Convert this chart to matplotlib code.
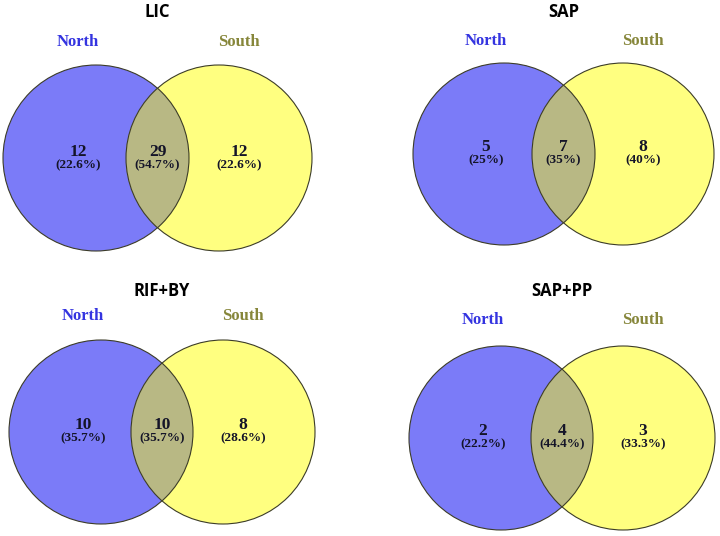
import matplotlib
matplotlib.use("Agg")
import matplotlib.pyplot as plt
from matplotlib.patches import Circle

# data for each venn panel
titles = ["LIC", "SAP", "RIF+BY", "SAP+PP"]
north_only = [12, 5, 10, 2]
shared = [29, 7, 10, 4]
south_only = [12, 8, 8, 3]
north_pct = ["22.6%", "25%", "35.7%", "22.2%"]
shared_pct = ["54.7%", "35%", "35.7%", "44.4%"]
south_pct = ["22.6%", "40%", "28.6%", "33.3%"]
set_names = ["North", "South"]

BLUE = "#7b7bf8"
YELLOW = "#ffff80"
OLIVE = "#b8b884"
EDGE = "#3c3c28"

# panel placement in pixels: origin, circle centres, radius, title / label rows
layout = [
    dict(ox=0, oy=0, nx=96, sx=219, cy=158, r=93, ty=12, ly=42, vy=152),
    dict(ox=360, oy=0, nx=144, sx=263, cy=154, r=91, ty=12, ly=41, vy=147),
    dict(ox=0, oy=268, nx=101, sx=223, cy=164, r=92, ty=23, ly=48, vy=157),
    dict(ox=360, oy=268, nx=141, sx=263, cy=170, r=92, ty=23, ly=52, vy=163),
]

fig = plt.figure(figsize=(7.2, 5.36), dpi=100)
ax = fig.add_axes([0, 0, 1, 1])
ax.set_xlim(0, 720)
ax.set_ylim(536, 0)
ax.set_aspect("equal")
ax.axis("off")

serif = "Liberation Serif"

for i, t in enumerate(titles):
    L = layout[i]
    ox, oy = L["ox"], L["oy"]
    nx, sx, cy, r = ox + L["nx"], ox + L["sx"], oy + L["cy"], L["r"]

    north = Circle((nx, cy), r, facecolor=BLUE, edgecolor="none")
    south = Circle((sx, cy), r, facecolor=YELLOW, edgecolor="none")
    ax.add_patch(north)
    ax.add_patch(south)
    # overlap region: south circle clipped by north circle
    both = Circle((sx, cy), r, facecolor=OLIVE, edgecolor="none")
    ax.add_patch(both)
    clip = Circle((nx, cy), r, transform=ax.transData)
    both.set_clip_path(clip)
    # outlines on top
    ax.add_patch(Circle((nx, cy), r, fill=False, edgecolor=EDGE, lw=0.8))
    ax.add_patch(Circle((sx, cy), r, fill=False, edgecolor=EDGE, lw=0.8))

    mid = (nx + sx) / 2
    ax.text(mid, oy + L["ty"], t, ha="center", va="center",
            fontsize=12, fontweight="bold", family="Open Sans")
    ax.text(nx - 18, oy + L["ly"], set_names[0], ha="center", va="center",
            fontsize=12, fontweight="bold", family=serif, color="#3434e0")
    ax.text(sx + 20, oy + L["ly"], set_names[1], ha="center", va="center",
            fontsize=12, fontweight="bold", family=serif, color="#86863a")

    vals = [(nx - 18, north_only[i], north_pct[i]),
            (mid, shared[i], shared_pct[i]),
            (sx + 20, south_only[i], south_pct[i])]
    for x, n, p in vals:
        ax.text(x, oy + L["vy"] + 4, str(n), ha="center", va="baseline",
                fontsize=12.5, fontweight="bold", family=serif, color="#141428")
        ax.text(x, oy + L["vy"] + 7, "(" + p + ")", ha="center", va="top",
                fontsize=9.5, fontweight="bold", family=serif, color="#141428")

fig.savefig("out.png", dpi=100, facecolor="white")
